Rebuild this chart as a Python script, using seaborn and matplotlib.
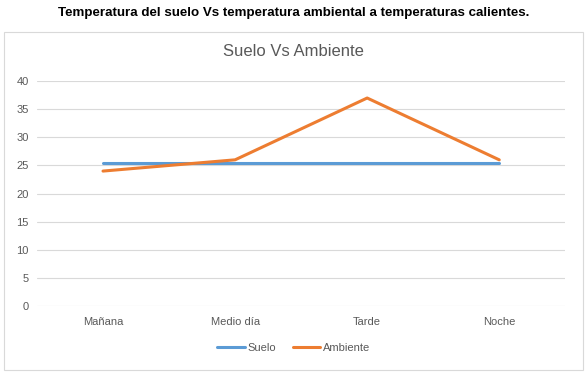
import matplotlib
matplotlib.use("Agg")
import matplotlib.pyplot as plt
import pandas as pd
import seaborn as sns
from matplotlib.patches import Rectangle

momentos = ["Mañana", "Medio día", "Tarde", "Noche"]
suelo = [25.4, 25.4, 25.4, 25.4]
ambiente = [24, 26, 37, 26]
y_ticks = [0, 5, 10, 15, 20, 25, 30, 35, 40]

df = pd.DataFrame({
    "momento": momentos * 2,
    "temp": suelo + ambiente,
    "serie": ["Suelo"] * 4 + ["Ambiente"] * 4,
})
df["x"] = list(range(4)) * 2

sns.set_style("white")
plt.rcParams["font.family"] = ["Liberation Sans", "DejaVu Sans"]

fig = plt.figure(figsize=(5.87, 3.74), dpi=100)
ax = fig.add_axes([0.063, 0.182, 0.9, 0.601])

sns.lineplot(data=df, x="x", y="temp", hue="serie",
             palette={"Suelo": "#5B9BD5", "Ambiente": "#ED7D31"},
             linewidth=2.2, ax=ax, legend=False)

ax.set_xlim(-0.5, 3.5)
ax.set_ylim(0, 40)
ax.set_yticks(y_ticks)
ax.set_xticks(range(4))
ax.set_xticklabels(momentos)
ax.tick_params(axis="both", colors="#595959", labelsize=8, length=0, pad=6)
ax.tick_params(axis="x", pad=8)
ax.yaxis.grid(True, color="#D9D9D9", linewidth=0.8)
ax.set_axisbelow(True)
for s in ax.spines.values():
    s.set_visible(False)
ax.set_xlabel("")
ax.set_ylabel("")

# chart frame and titles
fig.patches.append(Rectangle((4 / 587, 1 - 370 / 374), 579 / 587, 338 / 374,
                             transform=fig.transFigure, fill=False,
                             edgecolor="#D9D9D9", linewidth=0.8))
fig.text(0.5, 1 - 13 / 374, "Temperatura del suelo Vs temperatura ambiental a temperaturas calientes.",
         ha="center", va="center", fontsize=9.6, fontweight="bold", color="black")
fig.text(0.5, 1 - 52 / 374, "Suelo Vs Ambiente", ha="center", va="center",
         fontsize=12, color="#595959")

# legend
handles = [plt.Line2D([], [], color="#5B9BD5", linewidth=2.2),
           plt.Line2D([], [], color="#ED7D31", linewidth=2.2)]
fig.legend(handles, ["Suelo", "Ambiente"], loc="center", ncol=2,
           bbox_to_anchor=(0.5, 1 - 348 / 374), frameon=False, fontsize=8,
           labelcolor="#595959", handlelength=2.5, handletextpad=0.2,
           columnspacing=1.5)

fig.savefig("out.png", dpi=100)
